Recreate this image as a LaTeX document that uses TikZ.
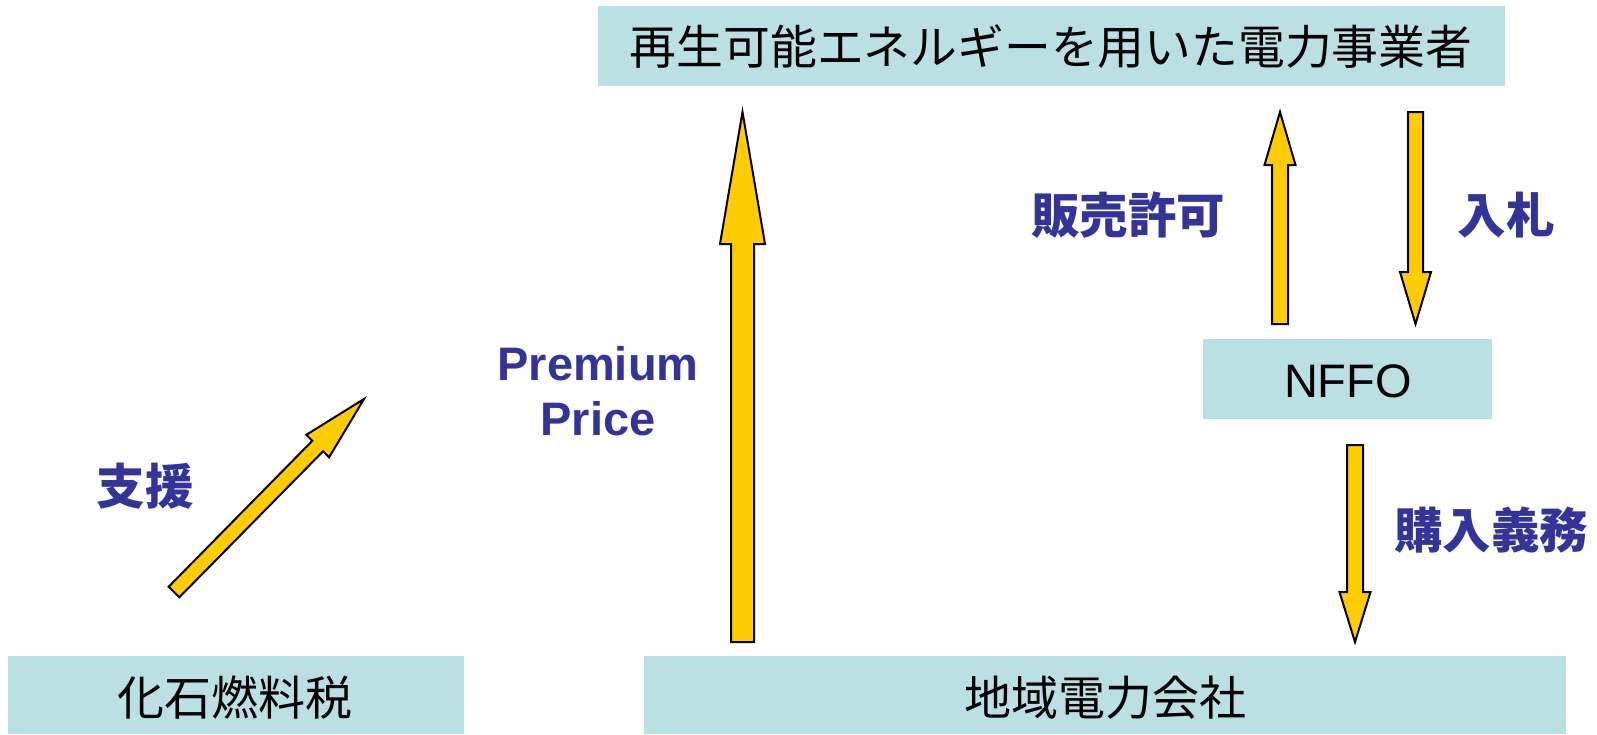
\documentclass[tikz,border=0pt]{standalone}
\usepackage{fontspec}
\setmainfont{Liberation Sans}
\newfontfamily\cjk{Noto Sans CJK JP}
\usetikzlibrary{calc}
\definecolor{boxfill}{HTML}{BBE0E3}
\definecolor{lblue}{HTML}{333399}
\definecolor{arrowfill}{HTML}{FFCC00}
\tikzset{
  boxnode/.style={fill=boxfill, draw=none, inner sep=0pt},
  boxtext/.style={font=\cjk\fontsize{46.8}{52}\selectfont, text=black},
  bluelabel/.style={font=\cjk\bfseries\fontsize{48.5}{52}\selectfont, text=lblue},
  latinlabel/.style={font=\bfseries\fontsize{47}{55}\selectfont, text=lblue},
  barrow/.style={fill=arrowfill, draw=black, line width=2pt, line join=miter}
}
% #1 tail, #2 tip, #3 shaft half width, #4 head half width, #5 head length
\newcommand\blockarrow[5]{%
  \coordinate (hb) at ($(#2)!#5!(#1)$);
  \draw[barrow] ($(#1)!#3!90:(#2)$) -- ($(hb)!#3!90:(#2)$) -- ($(hb)!#4!90:(#2)$)
    -- (#2) -- ($(hb)!#4!-90:(#2)$) -- ($(hb)!#3!-90:(#2)$) -- ($(#1)!#3!-90:(#2)$) -- cycle;
}
\begin{document}
\begin{tikzpicture}[x=1pt,y=-1pt]
\useasboundingbox (0,0) rectangle (1597,734);
% boxes
\fill[boxfill] (598,6) rectangle (1505,86);
\node[boxtext] (rep) at (1051,47) {再生可能エネルギーを用いた電力事業者};
\fill[boxfill] (1203,339) rectangle (1492,419);
\node[font=\fontsize{47}{52}\selectfont, anchor=base] (nffo) at (1348,397) {NFFO};
\fill[boxfill] (8,656) rectangle (464,734);
\node[boxtext, font=\cjk\fontsize{47}{50}\selectfont] (tax) at (235,698) {化石燃料税};
\fill[boxfill] (644,656) rectangle (1566,734);
\node[boxtext, font=\cjk\fontsize{47}{50}\selectfont] (util) at (1105,698) {地域電力会社};
% arrow end points
\coordinate (pt) at (742.5,642); \coordinate (pp) at (742.5,112);
\coordinate (st) at (1280,324); \coordinate (sp) at (1280,112);
\coordinate (nt) at (1415.5,112); \coordinate (np) at (1415.5,324);
\coordinate (kt) at (1355,445); \coordinate (kp) at (1355,642);
\coordinate (dt) at (174,592); \coordinate (dp) at (364,399);
\blockarrow{pt}{pp}{11.5pt}{22.5pt}{132pt}
\blockarrow{st}{sp}{8pt}{15.5pt}{53pt}
\blockarrow{nt}{np}{7.5pt}{15.5pt}{52pt}
\blockarrow{kt}{kp}{8pt}{15.5pt}{50pt}
\blockarrow{dt}{dp}{7.5pt}{16pt}{66pt}
% labels
\node[latinlabel, anchor=base] (prem) at (598,380) {Premium};
\node[latinlabel, anchor=base] (price) at (598,435) {Price};
\node[bluelabel] (shien) at (145,486) {支援};
\node[bluelabel] (hanbai) at (1128,215) {販売許可};
\node[bluelabel] (nyusatsu) at (1506,215) {入札};
\node[bluelabel] (konyu) at (1491,530) {購入義務};
\end{tikzpicture}
\end{document}
